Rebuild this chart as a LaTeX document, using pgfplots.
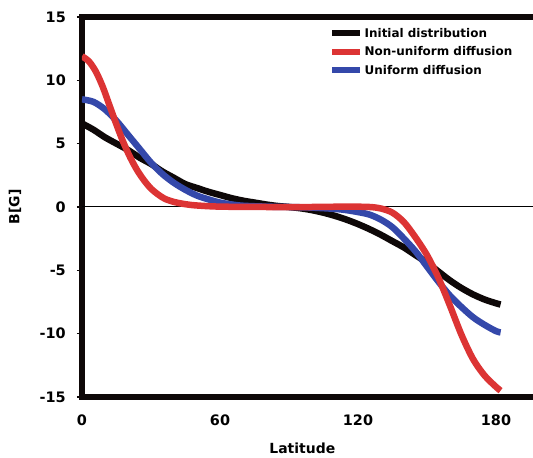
\documentclass[border=0pt]{standalone}
\usepackage{pgfplots}
\pgfplotsset{compat=1.18}
\usepackage{fontspec}
\setmainfont{DejaVu Sans}
\definecolor{cred}{RGB}{220,52,52}
\definecolor{cblue}{RGB}{52,72,170}
\definecolor{cblack}{RGB}{14,8,8}
\begin{document}
\begin{tikzpicture}
\begin{axis}[
  scale only axis,
  width=460bp, height=380bp,
  xmin=0, xmax=200, ymin=-15, ymax=15,
  xtick={0,60,120,180}, ytick={-15,-10,...,15},
  axis line style={line width=5.5bp, cblack},
  tick align=outside,
  major tick length=5bp,
  ytick style={line width=1.5bp, cblack},
  xtick style={draw=none},
  /pgf/number format/assume math mode=true,
  ticklabel style={font=\fontsize{14.5}{17}\selectfont\bfseries},
  yticklabel style={anchor=east, inner sep=0pt, xshift=-11bp},
  xticklabel style={anchor=north, inner sep=0pt, yshift=-13bp},
  xlabel={Latitude}, ylabel={B[G]},
  label style={font=\fontsize{14}{16}\selectfont\bfseries},
  xlabel style={at={(axis description cs:0.479,-0.134)}, anchor=center},
  ylabel style={at={(axis description cs:-0.1457,0.5)}, anchor=center},
  legend style={draw=none, fill=none, at={(axis description cs:0.5370,0.978)}, anchor=north west,
    inner sep=0pt, row sep=3bp,
    font=\fontsize{12}{14}\selectfont\bfseries,
    nodes={inner sep=1.5bp, text height=10bp, text depth=2.5bp}},
  legend cell align=left,
  legend image code/.code={\draw[#1, line width=6bp] (0bp,0bp) -- (28bp,0bp);},
]
\coordinate (BL) at (rel axis cs:0,0);
\addplot[black, line width=1bp, forget plot] coordinates {(0,0) (200,0)};
\addplot[cblack, line width=6.5bp, smooth, forget plot] coordinates {
(0,6.6) (5,6.1) (10,5.5) (15,5.0) (20,4.5) (25,3.9) (30,3.4) (35,2.8) (40,2.3) (45,1.8)
(50,1.5) (55,1.2) (60,0.95) (65,0.7) (70,0.5) (75,0.35) (80,0.2) (85,0.08) (90,0)
(95,-0.1) (100,-0.25) (105,-0.45) (110,-0.7) (115,-1.0) (120,-1.35) (125,-1.75) (130,-2.2)
(135,-2.7) (140,-3.2) (145,-3.8) (150,-4.4) (155,-5.1) (160,-5.8) (165,-6.4) (170,-6.9)
(175,-7.3) (180,-7.6) (182,-7.7)};
\addplot[cblue, line width=6.5bp, smooth, forget plot] coordinates {
(0,8.5) (5,8.3) (10,7.7) (15,6.8) (20,5.7) (25,4.6) (30,3.5) (35,2.6) (40,1.9) (45,1.35)
(50,0.9) (55,0.6) (60,0.35) (65,0.2) (70,0.1) (80,0.03) (90,0) (100,-0.05) (110,-0.15)
(115,-0.25) (120,-0.4) (125,-0.6) (130,-1.0) (135,-1.6) (140,-2.5) (145,-3.5) (150,-4.7)
(155,-5.9) (160,-7.0) (165,-7.9) (170,-8.7) (175,-9.3) (180,-9.8) (182,-9.9)};
\addplot[cred, line width=6.5bp, smooth, forget plot] coordinates {
(0,11.9) (3,11.5) (6,10.7) (9,9.5) (12,8.0) (15,6.5) (18,5.1) (21,3.9) (24,2.9) (27,2.1)
(30,1.45) (33,1.0) (36,0.65) (40,0.4) (45,0.22) (50,0.12) (60,0.03) (80,0) (100,0)
(115,0.03) (125,0) (130,-0.12) (135,-0.45) (140,-1.2) (145,-2.4) (150,-3.8) (155,-5.6)
(160,-7.8) (165,-10.1) (170,-12.0) (175,-13.3) (180,-14.2) (182,-14.5)};
\addlegendimage{cblack}
\addlegendentry{Initial distribution}
\addlegendimage{cred}
\addlegendentry{Non-uniform diffusion}
\addlegendimage{cblue}
\addlegendentry{Uniform diffusion}
\end{axis}
\pgfresetboundingbox
\useasboundingbox ([shift={(-82bp,-61bp)}]BL) rectangle ([shift={(451bp,397bp)}]BL);
\end{tikzpicture}
\end{document}
